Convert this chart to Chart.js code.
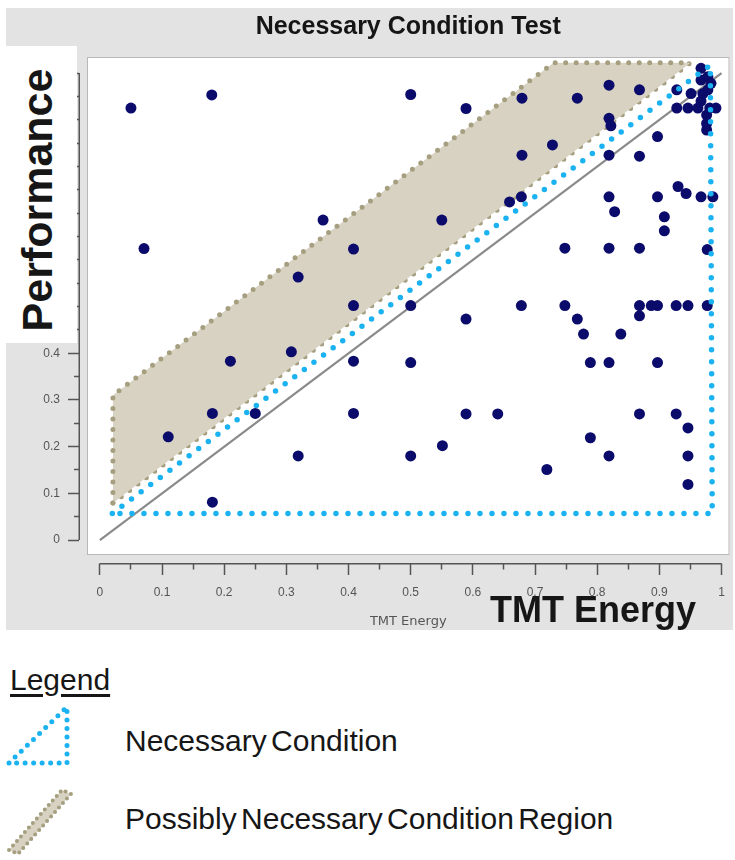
<!DOCTYPE html>
<html>
<head>
<meta charset="utf-8">
<script src="https://cdn.jsdelivr.net/npm/chart.js@4.4.1/dist/chart.umd.min.js"></script>
<style>
html,body{margin:0;padding:0;background:#fff;}
body{width:735px;height:860px;position:relative;overflow:hidden;font-family:"Liberation Sans",Arial,sans-serif;color:#161616;}
#panel{position:absolute;left:6px;top:8px;width:727px;height:622px;background:#e3e3e3;}
#chart{position:absolute;left:0;top:0;z-index:1;}
#perfBox{position:absolute;left:0;top:46px;width:77px;height:297px;background:#fff;z-index:2;overflow:hidden;}
#perfLabel{position:absolute;left:-113px;top:129px;width:300px;height:50px;line-height:50px;text-align:center;font-size:43px;font-weight:bold;transform:rotate(-90deg);white-space:nowrap;}
#bigX{position:absolute;left:490px;top:592px;font-size:36px;font-weight:bold;line-height:36px;z-index:3;white-space:nowrap;}
.lg{position:absolute;left:125px;font-size:30px;line-height:30px;white-space:nowrap;word-spacing:-4px;}
#legendTitle{position:absolute;left:10px;top:665px;font-size:30px;line-height:30px;text-decoration:underline;text-underline-offset:4px;}
#legendIcons{position:absolute;left:0;top:0;z-index:0;}
</style>
</head>
<body>
<div id="panel"></div>
<canvas id="chart" width="735" height="640"></canvas>
<div id="perfBox"><div id="perfLabel">Performance</div></div>
<div id="bigX">TMT Energy</div>
<div id="legendTitle">Legend</div>
<svg id="legendIcons" width="735" height="860">
  <polyline points="9,763 67,707 67,763 9,763" fill="none" stroke="#1ab2f0" stroke-width="5" stroke-dasharray="0 8.5" stroke-linecap="round"/>
  <polygon points="9,850 62,790 71,794 18,854" fill="#d8d2c2" stroke="#a59f80" stroke-width="4" stroke-dasharray="0 6" stroke-linecap="round"/>
</svg>
<div class="lg" style="top:726px">Necessary Condition</div>
<div class="lg" style="top:804px">Possibly Necessary Condition Region</div>
<script>
// ---- data ----
const perfX = [0.05,0.18,0.071,0.359,0.408,0.319,0.408,0.308,0.21,0.408,0.181,0.25,0.11,0.319,0.181,0.408,
  0.5,0.5,0.5,0.5,0.55,0.551,0.589,0.589,0.589,0.64,0.679,0.679,0.659,0.678,0.678,0.719,0.728,
  0.748,0.748,0.768,0.778,0.789,0.789,0.768,0.819,0.819,0.822,0.819,0.819,0.828,0.819,0.819,0.819,0.838,
  0.868,0.868,0.868,0.868,0.868,0.868,0.887,0.897,0.897,0.897,0.897,0.908,0.908,0.927,0.927,
  0.946,0.946,0.946,0.946,0.977,0.977,0.928,0.951,0.967,0.978,0.983,0.97,0.978,0.967,
  0.928,0.946,0.962,0.981,0.991,0.976,0.976,0.976,0.967,0.93,0.943,0.967,0.986];
const perfY = [0.925,0.953,0.624,0.685,0.623,0.563,0.502,0.403,0.383,0.383,0.271,0.271,0.221,0.18,0.081,0.271,
  0.954,0.502,0.38,0.18,0.685,0.202,0.924,0.473,0.27,0.27,0.946,0.824,0.724,0.735,0.502,0.151,0.846,
  0.625,0.502,0.473,0.441,0.38,0.219,0.946,0.974,0.903,0.887,0.824,0.735,0.703,0.625,0.38,0.18,0.441,
  0.964,0.822,0.625,0.502,0.48,0.27,0.502,0.502,0.864,0.735,0.38,0.692,0.662,0.502,0.27,
  0.502,0.24,0.18,0.119,0.622,0.502,0.964,0.956,0.985,0.992,0.978,0.956,0.964,0.94,
  0.925,0.925,0.925,0.925,0.925,0.91,0.892,0.878,1.01,0.757,0.742,0.735,0.735];
// necessary-condition ceiling (closed triangle)
const necX = [0.02, 0.982, 0.985, 0.02];
const necY = [0.057, 1.017, 0.057, 0.057];
// possibly-necessary region: upper and lower boundaries
const regionTopX = [0.021, 0.021, 0.73, 0.95];
const regionTopY = [0.079, 0.31, 1.022, 1.022];
const regionBottomX = [0.021, 0.95];
const regionBottomY = [0.079, 1.022];
// reference diagonal
const diagX = [0, 1];
const diagY = [0, 1];
// axes
const xTickValues = [0,0.05,0.1,0.15,0.2,0.25,0.3,0.35,0.4,0.45,0.5,0.55,0.6,0.65,0.7,0.75,0.8,0.85,0.9,0.95,1];
const yTickValues = [0,0.05,0.1,0.15,0.2,0.25,0.3,0.35,0.4,0.45,0.5,0.55,0.6,0.65,0.7,0.75,0.8,0.85,0.9,0.95,1];
const xRange = [-0.0207, 1.0128];
const yRange = [-0.0321, 1.0343];
const axisSpan = [0, 1];
const chartTitle = 'Necessary Condition Test';
const xAxisTitle = 'TMT Energy';

// ---- helpers ----
const pts = (xs, ys) => xs.map((x, i) => ({x, y: ys[i]}));
const isMajor = v => Math.abs(v * 10 - Math.round(v * 10)) < 1e-6;
const tickLabel = v => isMajor(v) ? String(+(+v).toFixed(1)) : '';

const BaseLinear = Chart.LinearScale || Chart.registry.getScale('linear');
class ShiftedLinearScale extends BaseLinear {
  draw(area) {
    const ctx = this.ctx;
    const dx = this.isHorizontal() ? 0 : -7;
    const dy = this.isHorizontal() ? 8 : 0;
    ctx.save();
    ctx.translate(dx, dy);
    super.draw(area);
    ctx.restore();
  }
  drawBorder() {
    const ctx = this.ctx, b = this.options.border;
    const a = this.getPixelForValue(axisSpan[0]), e = this.getPixelForValue(axisSpan[1]);
    ctx.save();
    ctx.lineWidth = b.width; ctx.strokeStyle = b.color;
    ctx.beginPath();
    if (this.isHorizontal()) { const y = this.top + b.width / 2; ctx.moveTo(a, y); ctx.lineTo(e, y); }
    else { const x = this.right - b.width / 2; ctx.moveTo(x, a); ctx.lineTo(x, e); }
    ctx.stroke();
    ctx.restore();
  }
}
ShiftedLinearScale.id = 'shiftedLinear';
ShiftedLinearScale.defaults = {};
Chart.register(ShiftedLinearScale);

const plotBackground = {
  id: 'plotBackground',
  beforeDraw(chart) {
    const {ctx, chartArea: a} = chart;
    ctx.save();
    ctx.fillStyle = '#ffffff';
    ctx.fillRect(a.left, a.top, a.right - a.left, a.bottom - a.top);
    ctx.strokeStyle = '#b8b8b8';
    ctx.lineWidth = 1;
    ctx.strokeRect(a.left + 0.5, a.top + 0.5, a.right - a.left - 1, a.bottom - a.top - 1);
    ctx.restore();
  }
};

const FONT = '"Liberation Sans", Arial, sans-serif';
const axisCommon = (ticksArr, isX) => ({
  type: 'shiftedLinear',
  afterBuildTicks: s => { s.ticks = ticksArr.map(v => ({value: v})); },
  grid: {
    display: true, drawOnChartArea: false, drawTicks: true, tickLength: 12,
    tickColor: '#555', tickWidth: 1.5,
    tickBorderDash: c => (c.tick && !isMajor(c.tick.value)) ? (isX ? [6, 6] : [0, 6, 6]) : []
  },
  border: {display: true, color: '#555', width: 1.5},
  ticks: {autoSkip: false, maxRotation: 0, minRotation: 0, color: '#555',
    padding: isX ? 10 : 8,
    font: {size: 12, family: FONT}, callback: v => tickLabel(v)}
});

new Chart(document.getElementById('chart'), {
  type: 'scatter',
  data: {
    datasets: [
      {label: 'Necessary Condition', data: pts(necX, necY), showLine: true, fill: false,
        borderColor: '#1ab2f0', borderWidth: 5.5, borderDash: [0, 12], borderCapStyle: 'round',
        pointRadius: 0, order: 1},
      {label: 'Performance', data: pts(perfX, perfY), showLine: false,
        pointRadius: 5.5, pointBackgroundColor: '#0b0b6b', pointBorderWidth: 0, order: 2},
      {label: 'Diagonal', data: pts(diagX, diagY), showLine: true, fill: false,
        borderColor: '#8a8a8a', borderWidth: 2.2, pointRadius: 0, order: 3},
      {label: 'Possibly Necessary Condition Region', data: pts(regionTopX, regionTopY), showLine: true,
        fill: '+1', backgroundColor: '#d8d2c2',
        borderColor: '#a59f80', borderWidth: 5, borderDash: [0, 10.5], borderCapStyle: 'round',
        pointRadius: 0, order: 4},
      {label: 'Region lower edge', data: pts(regionBottomX, regionBottomY), showLine: true, fill: false,
        borderColor: '#a59f80', borderWidth: 5, borderDash: [0, 10.5], borderCapStyle: 'round',
        pointRadius: 0, order: 5}
    ]
  },
  options: {
    responsive: false,
    animation: false,
    devicePixelRatio: 1,
    layout: {padding: 0},
    plugins: {
      legend: {display: false},
      tooltip: {enabled: false},
      title: {display: true, fullSize: false, text: chartTitle, color: '#151515',
        font: {size: 25, weight: 'bold', family: FONT}, padding: {top: 12, bottom: 15}}
    },
    scales: {
      x: Object.assign(axisCommon(xTickValues, true), {
        position: 'bottom', min: xRange[0], max: xRange[1],
        afterFit: s => { s.height = 85; },
        title: {display: true, text: xAxisTitle, color: '#555', font: {size: 13, family: '"DejaVu Sans", sans-serif'}, padding: {top: 0, bottom: 19}}
      }),
      y: Object.assign(axisCommon(yTickValues, false), {
        position: 'left', min: yRange[0], max: yRange[1],
        afterFit: s => { s.width = 87; }
      })
    }
  },
  plugins: [plotBackground]
});
</script>
</body>
</html>
